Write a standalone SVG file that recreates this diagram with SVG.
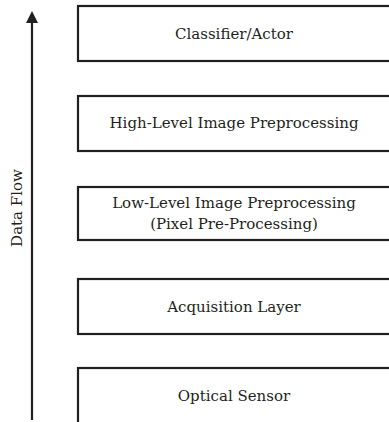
<svg xmlns="http://www.w3.org/2000/svg" width="389" height="422" viewBox="0 0 389 422">
<style>
.box{fill:#fff;stroke:#231f20;stroke-width:2.2}
.t{font-family:"DejaVu Serif","Liberation Serif",serif;font-size:15px;fill:#231f20;text-anchor:middle}
.flow{stroke:#231f20;stroke-width:2.2;fill:none}
</style>
<rect width="389" height="422" fill="#fff"/>
<g id="connectors">
<path class="flow" d="M32,420 L32,22"/>
<path d="M26,23 L32,11 L38,23 Z" fill="#231f20"/>
<text class="t" transform="translate(22,208) rotate(-90)">Data Flow</text>
</g>
<g id="classifier">
<rect class="box" x="78" y="6" width="320" height="55"/>
<text class="t" x="234" y="39">Classifier/Actor</text>
</g>
<g id="highlevel">
<rect class="box" x="78" y="96" width="320" height="55"/>
<text class="t" x="234" y="128">High-Level Image Preprocessing</text>
</g>
<g id="lowlevel">
<rect class="box" x="78" y="187" width="320" height="53"/>
<text class="t" x="234" y="208">Low-Level Image Preprocessing</text>
<text class="t" x="234" y="229">(Pixel Pre-Processing)</text>
</g>
<g id="acquisition">
<rect class="box" x="78" y="279" width="320" height="55"/>
<text class="t" x="234" y="312">Acquisition Layer</text>
</g>
<g id="sensor">
<rect class="box" x="78" y="368" width="320" height="60"/>
<text class="t" x="234" y="401">Optical Sensor</text>
</g>
</svg>
